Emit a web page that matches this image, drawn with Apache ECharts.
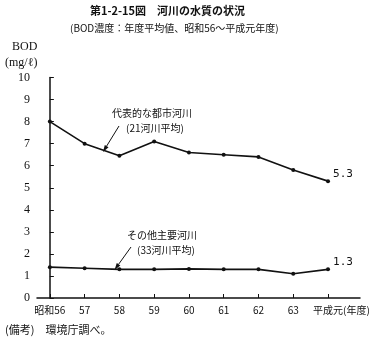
<!DOCTYPE html>
<html>
<head>
<meta charset="utf-8">
<script src="https://cdn.jsdelivr.net/npm/echarts@6/dist/echarts.min.js"></script>
<style>
  html, body { margin: 0; padding: 0; background: #fff; }
  #chart { width: 381px; height: 342px; }
</style>
</head>
<body>
<div id="chart"></div>
<script>
// 年度（昭和56〜平成元年度）
const years = ['昭和56', '57', '58', '59', '60', '61', '62', '63', '平成元'];
// 代表的な都市河川（21河川平均） BOD mg/ℓ
const urbanRivers = [8.0, 7.0, 6.45, 7.1, 6.6, 6.5, 6.4, 5.8, 5.3];
// その他主要河川（33河川平均） BOD mg/ℓ
const otherRivers = [1.4, 1.35, 1.3, 1.3, 1.32, 1.3, 1.3, 1.1, 1.3];
// 縦軸目盛
const yTicks = [0, 1, 2, 3, 4, 5, 6, 7, 8, 9, 10];

const ink = '#111';
const jp = '"Noto Sans CJK JP", sans-serif';
const num = '"Liberation Serif", "DejaVu Serif", serif';

const toPoints = arr => arr.map((v, i) => [i, v]);
const lastLabel = (arr) => ({
  show: true,
  position: 'right',
  distance: 3,
  offset: [0, -7],
  fontFamily: '"DejaVu Sans Mono", monospace',
  fontSize: 11,
  color: ink,
  formatter: p => (p.dataIndex === arr.length - 1 ? arr[arr.length - 1].toFixed(1) : '')
});

// 注記用の矢印（線＋三角の矢じり）
function arrow(x1, y1, x2, y2) {
  const dx = x2 - x1, dy = y2 - y1;
  const len = Math.hypot(dx, dy);
  const ux = dx / len, uy = dy / len;
  const bx = x2 - ux * 7, by = y2 - uy * 7;
  const px = -uy * 2.2, py = ux * 2.2;
  return [
    { type: 'line', shape: { x1, y1, x2: bx, y2: by }, style: { stroke: ink, lineWidth: 1 } },
    { type: 'polygon', shape: { points: [[x2, y2], [bx + px, by + py], [bx - px, by - py]] },
      style: { fill: ink } }
  ];
}

const chart = echarts.init(document.getElementById('chart'), null, { renderer: 'canvas' });

chart.setOption({
  backgroundColor: '#fff',
  animation: false,
  grid: { left: 37, right: 21, top: 77.5, bottom: 44, containLabel: false },
  xAxis: {
    type: 'value',
    min: -0.37,
    max: 8.92,
    axisLine: { show: true, lineStyle: { color: ink, width: 1.5 } },
    axisTick: {
      show: true, inside: true, length: 4,
      customValues: years.map((_, i) => i),
      lineStyle: { color: ink }
    },
    axisLabel: {
      customValues: years.map((_, i) => i),
      formatter: v => years[Math.round(v)] || '',
      margin: 7,
      fontFamily: jp,
      fontSize: 10,
      color: ink
    },
    splitLine: { show: false }
  },
  yAxis: {
    type: 'value',
    min: yTicks[0],
    max: yTicks[yTicks.length - 1],
    interval: 1,
    axisLine: { show: true, lineStyle: { color: ink, width: 1.5 } },
    axisTick: { show: true, inside: true, length: 4, lineStyle: { color: ink } },
    axisLabel: { margin: 7, fontFamily: num, fontSize: 12, color: ink },
    splitLine: { show: false }
  },
  series: [
    {
      name: '代表的な都市河川',
      type: 'line',
      data: toPoints(urbanRivers),
      symbol: 'circle',
      symbolSize: 4,
      lineStyle: { color: ink, width: 1.6 },
      itemStyle: { color: ink },
      label: lastLabel(urbanRivers)
    },
    {
      name: 'その他主要河川',
      type: 'line',
      data: toPoints(otherRivers),
      symbol: 'circle',
      symbolSize: 4,
      lineStyle: { color: ink, width: 1.6 },
      itemStyle: { color: ink },
      label: lastLabel(otherRivers)
    }
  ],
  graphic: [
    { type: 'text', x: 90, y: 5,
      style: { text: '第1-2-15図　河川の水質の状況', font: 'bold 11px ' + jp, fill: ink } },
    { type: 'text', x: 70, y: 23,
      style: { text: '(BOD濃度：年度平均値、昭和56～平成元年度)', font: '10px ' + jp, fill: ink } },
    { type: 'text', x: 12, y: 41,
      style: { text: 'BOD', font: '12px ' + num, fill: ink } },
    { type: 'text', x: 5, y: 57,
      style: { text: '(mg/ℓ)', font: '12px ' + num, fill: ink } },
    { type: 'text', x: 343, y: 305,
      style: { text: '(年度)', font: '10px ' + jp, fill: ink } },
    { type: 'text', x: 5, y: 324,
      style: { text: '(備考)　環境庁調べ。', font: '11px ' + jp, fill: ink } },
    // 都市河川の注記
    { type: 'text', x: 112, y: 108,
      style: { text: '代表的な都市河川', font: '10px ' + jp, fill: ink } },
    { type: 'text', x: 126, y: 123,
      style: { text: '(21河川平均)', font: '10px ' + jp, fill: ink } },
    ...arrow(119, 126, 103, 152),
    // その他主要河川の注記
    { type: 'text', x: 127, y: 230,
      style: { text: 'その他主要河川', font: '10px ' + jp, fill: ink } },
    { type: 'text', x: 137, y: 245,
      style: { text: '(33河川平均)', font: '10px ' + jp, fill: ink } },
    ...arrow(131, 247, 114.5, 270)
  ]
});
</script>
</body>
</html>
